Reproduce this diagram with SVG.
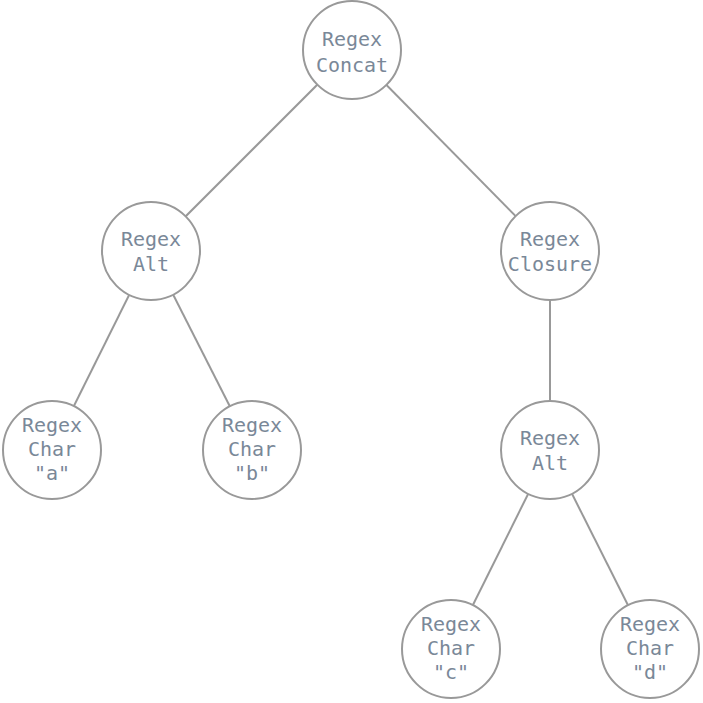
<svg xmlns="http://www.w3.org/2000/svg" width="703" height="703" viewBox="0 0 703 703">
<style>
.n circle{fill:#fff;stroke:#999;stroke-width:2}
.n text{font-family:"DejaVu Sans Mono",monospace;font-size:20px;fill:#7a8898;text-anchor:middle}
#edges line{stroke:#999;stroke-width:2}
</style>
<rect width="703" height="703" fill="#fff"/>
<g id="edges">
<line x1="352" y1="50" x2="151" y2="251"/>
<line x1="352" y1="50" x2="550" y2="251"/>
<line x1="151" y1="251" x2="52" y2="450"/>
<line x1="151" y1="251" x2="252" y2="450"/>
<line x1="550" y1="251" x2="550" y2="450"/>
<line x1="550" y1="450" x2="451" y2="649"/>
<line x1="550" y1="450" x2="650" y2="649"/>
</g>
<g id="concat" class="n"><circle cx="352" cy="50" r="49"/><text x="352" y="46">Regex</text><text x="352" y="72">Concat</text></g>
<g id="alt1" class="n"><circle cx="151" cy="251" r="49"/><text x="151" y="246">Regex</text><text x="151" y="271">Alt</text></g>
<g id="closure" class="n"><circle cx="550" cy="251" r="49"/><text x="550" y="246">Regex</text><text x="550" y="271">Closure</text></g>
<g id="chara" class="n"><circle cx="52" cy="450" r="49"/><text x="52" y="432">Regex</text><text x="52" y="456">Char</text><text x="52" y="480">"a"</text></g>
<g id="charb" class="n"><circle cx="252" cy="450" r="49"/><text x="252" y="432">Regex</text><text x="252" y="456">Char</text><text x="252" y="480">"b"</text></g>
<g id="alt2" class="n"><circle cx="550" cy="450" r="49"/><text x="550" y="445">Regex</text><text x="550" y="470">Alt</text></g>
<g id="charc" class="n"><circle cx="451" cy="649" r="49"/><text x="451" y="631">Regex</text><text x="451" y="655">Char</text><text x="451" y="679">"c"</text></g>
<g id="chard" class="n"><circle cx="650" cy="649" r="49"/><text x="650" y="631">Regex</text><text x="650" y="655">Char</text><text x="650" y="679">"d"</text></g>
</svg>
